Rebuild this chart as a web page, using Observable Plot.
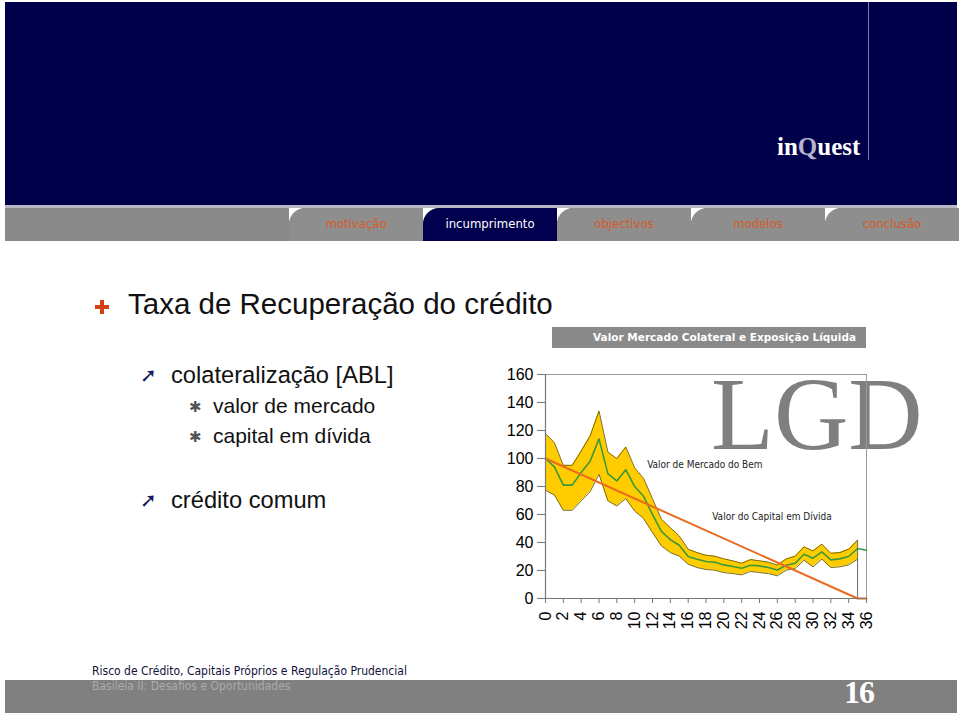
<!DOCTYPE html>
<html>
<head>
<meta charset="utf-8">
<script src="https://cdn.jsdelivr.net/npm/d3@7"></script>
<script src="https://cdn.jsdelivr.net/npm/@observablehq/plot@0.6"></script>
<style>
  html, body { margin: 0; padding: 0; background: #fff; }
  #page { position: relative; width: 960px; height: 716px; overflow: hidden; background: #fff; font-family: "Liberation Sans", Arial, sans-serif; }
  .abs { position: absolute; white-space: nowrap; }
  .tab { position: absolute; top: 208px; height: 33px; width: 134px; }
  .tab .corner { position: absolute; left: 0; top: 0; width: 13px; height: 13px; background: #fff; }
  .tab .body { position: absolute; left: 0; top: 0; width: 134px; height: 33px; background: #8e8e8e; border-top-left-radius: 16px; }
  .tab .lbl { position: absolute; left: 0; width: 134px; top: 8px; text-align: center; font-family: "DejaVu Sans Condensed", "DejaVu Sans", sans-serif; font-size: 13px; color: #d85a28; }
  .tab.active .body { background: #00004e; }
  .tab.active .lbl { color: #fff; }
</style>
</head>
<body>
<div id="page">
  <!-- banner -->
  <div class="abs" style="left:5px; top:2px; width:952px; height:203px; background:#00004a;"></div>
  <div class="abs" style="left:868px; top:2px; width:1px; height:158px; background:#7878a0;"></div>
  <div class="abs" style="left:777px; top:132px; font-family:'Liberation Serif', serif; font-weight:bold; font-size:25px; color:#fff; line-height:30px;">in<span style="color:#b4b4cc;">Q</span>uest</div>
  <!-- nav bar -->
  <div class="abs" style="left:5px; top:205px; width:952px; height:3px; background:#b8b8c4;"></div>
  <div class="abs" style="left:5px; top:208px; width:952px; height:33px; background:#8a8a8a;"></div>
  <div id="tabs"></div>

  <!-- title -->
  <div class="abs" style="left:95px; top:305px; width:14px; height:4px; background:#d2401a;"></div>
  <div class="abs" style="left:100px; top:300px; width:4px; height:14px; background:#d2401a;"></div>
  <div class="abs" style="left:128px; top:287px; font-size:29.5px; color:#111; line-height:34px;">Taxa de Recuperação do crédito</div>

  <!-- bullets -->
  <div class="abs" style="left:140px; top:364px; font-family:'DejaVu Sans', sans-serif; font-weight:bold; font-size:20px; color:#1a1a60; line-height:22px;">➚</div>
  <div class="abs" style="left:171px; top:362px; font-size:23.7px; color:#111; line-height:26px;">colateralização [ABL]</div>
  <div class="abs" style="left:189px; top:397px; font-family:'DejaVu Sans', sans-serif; font-size:15px; color:#555; line-height:20px;">✱</div>
  <div class="abs" style="left:213px; top:394px; font-size:21px; color:#111; line-height:24px;">valor de mercado</div>
  <div class="abs" style="left:189px; top:427px; font-family:'DejaVu Sans', sans-serif; font-size:15px; color:#555; line-height:20px;">✱</div>
  <div class="abs" style="left:213px; top:424px; font-size:21px; color:#111; line-height:24px;">capital em dívida</div>
  <div class="abs" style="left:140px; top:489px; font-family:'DejaVu Sans', sans-serif; font-weight:bold; font-size:20px; color:#1a1a60; line-height:22px;">➚</div>
  <div class="abs" style="left:171px; top:487px; font-size:23.7px; color:#111; line-height:26px;">crédito comum</div>

  <!-- chart header -->
  <div class="abs" style="left:552px; top:327px; width:314px; height:21px; background:#8a8a8a;"></div>
  <div class="abs" style="left:552px; top:327px; width:304px; height:21px; line-height:21px; text-align:right; font-family:'DejaVu Sans', sans-serif; font-weight:bold; font-size:10.5px; color:#fff;">Valor Mercado Colateral e Exposição Líquida</div>

  <!-- LGD big text -->
  <div class="abs" style="left:711px; top:376px; font-family:'Liberation Serif', serif; font-size:103px; line-height:76px; height:76px; color:#7f7f7f;">LGD</div>

  <div id="chart" class="abs" style="left:480px; top:360px;"></div>

  <!-- footer -->
  <div class="abs" style="left:5px; top:680px; width:952px; height:33px; background:#808080;"></div>
  <div class="abs" style="left:92px; top:679px; font-family:'DejaVu Sans Condensed', 'DejaVu Sans', sans-serif; font-size:12px; color:#ababab; line-height:14px;">Basileia II: Desafios e Oportunidades</div>
  <div class="abs" style="left:92px; top:665px; font-family:'DejaVu Sans Condensed', 'DejaVu Sans', sans-serif; font-size:12px; color:#10103a; line-height:13px;">Risco de Crédito, Capitais Próprios e Regulação Prudencial</div>
  <div class="abs" style="left:844px; top:674px; font-family:'Liberation Serif', serif; font-weight:bold; font-size:32px; color:#fff; line-height:36px; letter-spacing:-1px;">16</div>
</div>

<script>
// ---- data ----
const tabLabels = ["motivação", "incumprimento", "objectivos", "modelos", "conclusão"];
const activeTab = "incumprimento";

const months = [0,1,2,3,4,5,6,7,8,9,10,11,12,13,14,15,16,17,18,19,20,21,22,23,24,25,26,27,28,29,30,31,32,33,34,35,36];
// Valor de Mercado do Bem (green, centre line)
const marketValue = [100,94,81,81,90,98,114,89,84,92,80,73,60,48,42,38,30,28,26.4,25.9,24,22.8,21.6,23.8,23.3,22.1,20.4,23.8,25.2,31.6,28.8,33.3,27.6,28.3,30,35.7,34.5];
// band (yellow) upper / lower, months 0..35
const bandMonths = [0,1,2,3,4,5,6,7,8,9,10,11,12,13,14,15,16,17,18,19,20,21,22,23,24,25,26,27,28,29,30,31,32,33,34,35];
const bandUpper = [117.7,111.3,95.1,95.1,105.3,116,133.9,104.6,99.9,108.2,93.4,85.8,71.3,56.6,50.6,44.7,35.2,32.8,30.9,30.2,28.3,26.9,25.2,27.8,26.9,25.9,23.8,28.3,30.2,36.9,34,38.8,32.3,32.8,35.2,41.6];
const bandLower = [77.3,73.9,63,63,69.7,76.3,88.7,69.7,66.1,71.3,62.5,57.1,47.1,37.6,32.8,30.2,24.5,22.1,20.7,20.2,18.5,17.8,16.9,19.3,18.5,17.8,16.2,20.2,21.4,27.3,22.6,28.1,22.1,22.6,24,28.1];
// Valor do Capital em Dívida (orange, straight line)
const debtMonths = [0,35,36];
const debtValue = [100,0,0];

const yTicks = [0,20,40,60,80,100,120,140,160];
const xTicks = [0,2,4,6,8,10,12,14,16,18,20,22,24,26,28,30,32,34,36];

// ---- tabs ----
const tabsEl = document.getElementById("tabs");
tabLabels.forEach((t, i) => {
  const d = document.createElement("div");
  d.className = "tab" + (t === activeTab ? " active" : "");
  d.style.left = (289 + i * 134) + "px";
  d.innerHTML = `<div class="corner"></div><div class="body"></div><div class="lbl">${t}</div>`;
  tabsEl.appendChild(d);
});

// ---- chart ----
const band = bandMonths.map((m, i) => ({m, hi: bandUpper[i], lo: bandLower[i]}));
const market = months.map((m, i) => ({m, v: marketValue[i]}));
const debt = debtMonths.map((m, i) => ({m, v: debtValue[i]}));

const chart = Plot.plot({
  width: 480,
  height: 290,
  marginLeft: 65,
  marginRight: 94,
  marginTop: 14,
  marginBottom: 52,
  style: {background: "transparent", fontFamily: "'Liberation Sans', Arial, sans-serif", color: "#000", overflow: "visible"},
  x: {domain: [0, 36]},
  y: {domain: [0, 160]},
  marks: [
    Plot.frame({stroke: "#9a9a9a", strokeWidth: 1}),
    Plot.areaY(band, {x: "m", y1: "lo", y2: "hi", fill: "#FFCC00"}),
    Plot.lineY(band, {x: "m", y: "hi", stroke: "#6e5c00", strokeWidth: 0.9}),
    Plot.lineY(band, {x: "m", y: "lo", stroke: "#6e5c00", strokeWidth: 0.9}),
    Plot.ruleX([bandMonths[bandMonths.length - 1]], {y1: 0, y2: bandUpper[bandUpper.length - 1], stroke: "#6a6a6a", strokeWidth: 1}),
    Plot.lineY(market, {x: "m", y: "v", stroke: "#3a9a3a", strokeWidth: 1.6}),
    Plot.lineY(debt, {x: "m", y: "v", stroke: "#ec6a1e", strokeWidth: 2}),
    Plot.ruleX([0], {stroke: "#777", strokeWidth: 1.2}),
    Plot.ruleY([0], {stroke: "#777", strokeWidth: 1.2}),
    Plot.text(["Valor de Mercado do Bem"], {x: 11.4, y: 95.5, text: d => d, textAnchor: "start", fontSize: 10, fontFamily: "'DejaVu Sans Condensed', 'DejaVu Sans', sans-serif", fill: "#222"}),
    Plot.text(["Valor do Capital em Dívida"], {x: 18.7, y: 58.4, text: d => d, textAnchor: "start", fontSize: 10, fontFamily: "'DejaVu Sans Condensed', 'DejaVu Sans', sans-serif", fill: "#222"}),
    Plot.axisY({ticks: yTicks, tickSize: 8, tickPadding: 4, fontSize: 16, stroke: "#777", label: null}),
    Plot.axisX({ticks: xTicks, tickSize: 5, tickPadding: 8, tickRotate: -90, fontSize: 16, stroke: "#777", label: null})
  ]
});
document.getElementById("chart").appendChild(chart);
</script>
</body>
</html>
